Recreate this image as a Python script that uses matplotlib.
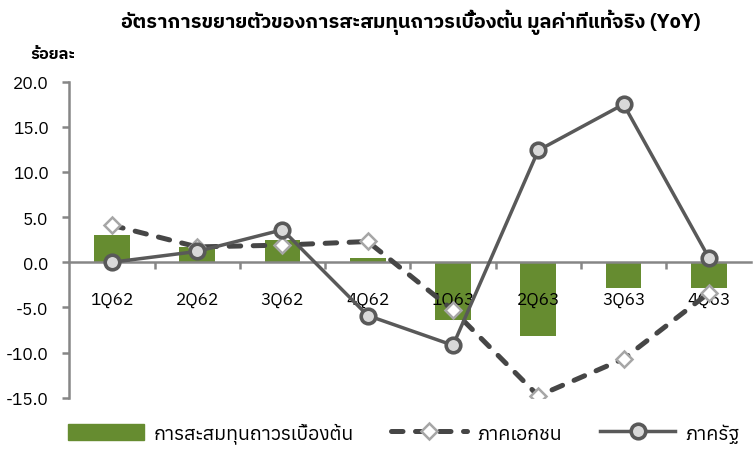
import matplotlib
matplotlib.use('Agg')
import matplotlib.pyplot as plt
from matplotlib import font_manager
from matplotlib.ft2font import FT2Font
from matplotlib.lines import Line2D
from matplotlib.patches import Patch
import numpy as np

quarters = ['1Q62', '2Q62', '3Q62', '4Q62', '1Q63', '2Q63', '3Q63', '4Q63']
total = [3.0, 1.7, 2.5, 0.5, -6.4, -8.2, -2.8, -2.8]
private = [4.1, 1.7, 1.9, 2.3, -5.3, -14.8, -10.7, -3.4]
public = [0.0, 1.2, 3.6, -5.9, -9.2, 12.4, 17.5, 0.5]
yticks = [-15, -10, -5, 0, 5, 10, 15, 20]

title = 'อัตราการขยายตัวของการสะสมทุนถาวรเบื้องต้น มูลค่าที่แท้จริง (YoY)'
unit = 'ร้อยละ'
names = ['การสะสมทุนถาวรเบื้องต้น', 'ภาคเอกชน', 'ภาครัฐ']

plt.rcParams['font.family'] = ['Anuphan', 'Noto Sans Thai', 'DejaVu Sans']


# first thai family that really has a bold face
def bold_family():
    for fam in ['Anuphan', 'Noto Sans Thai', 'IBM Plex Sans Thai', 'Sarabun', 'Noto Sans Thai UI']:
        try:
            path = font_manager.findfont(font_manager.FontProperties(family=fam, weight='bold'),
                                         fallback_to_default=False)
            face = FT2Font(path)
        except Exception:
            continue
        if 0x0E2D in face.get_charmap() and 'Bold' in face.style_name:
            return fam
    return 'Anuphan'


bold_fam = [bold_family(), 'DejaVu Sans']

green = '#668C30'
grey = '#868686'

fig, ax = plt.subplots(figsize=(7.53, 4.52), dpi=100)
fig.subplots_adjust(left=0.092, right=0.998, top=0.817, bottom=0.118)

x = np.arange(len(quarters))
dash_style = dict(color='#464646', lw=3.6, ls=(0, (2.3, 2.5)), dash_capstyle='round',
                  marker='D', ms=8.5, mfc='white', mec='#A6A6A6', mew=1.8)
solid_style = dict(color='#595959', lw=2.5,
                   marker='o', ms=10.5, mfc='#D9D9D9', mec='#595959', mew=2.6)

ax.bar(x, total, width=0.42, color=green, zorder=2)
ax.plot(x, private, zorder=3, **dash_style)
ax.plot(x, public, zorder=4, **solid_style)
ax.set_axisbelow(False)

ax.set_xlim(-0.5, len(quarters) - 0.5)
ax.set_ylim(-15, 20)
ax.set_yticks(yticks)
ax.set_yticklabels(['%.1f' % v for v in yticks], fontsize=12.5)

for s in ['top', 'right']:
    ax.spines[s].set_visible(False)
ax.spines['left'].set_color(grey)
ax.spines['left'].set_linewidth(1.8)
ax.spines['bottom'].set_position(('data', 0))
ax.spines['bottom'].set_color(grey)
ax.spines['bottom'].set_linewidth(1.8)

ax.set_xticks(x)
ax.set_xticklabels(quarters, fontsize=12.5)
ax.set_xticks(np.arange(0.5, len(quarters) - 0.5), minor=True)
ax.tick_params(axis='x', which='major', length=0, pad=21)
ax.tick_params(axis='x', which='minor', length=5, width=1.8, color=grey)
ax.tick_params(axis='y', length=5, width=1.8, color=grey, pad=10)

fig.text(0.545, 0.951, title, ha='center', va='center', fontsize=14.3,
         fontweight='bold', family=bold_fam)
fig.text(0.04, 0.879, unit, ha='left', va='center', fontsize=11.8,
         fontweight='bold', family=bold_fam)

handles = [Patch(color=green),
           Line2D([], [], **dash_style),
           Line2D([], [], **solid_style)]
fig.legend(handles, names, loc='center left', bbox_to_anchor=(0.09, 0.04), ncol=3,
           frameon=False, fontsize=14, handlelength=3.9, handleheight=0.85,
           columnspacing=1.95, handletextpad=0.5, borderpad=0, borderaxespad=0)

fig.savefig('out.png', dpi=100)
